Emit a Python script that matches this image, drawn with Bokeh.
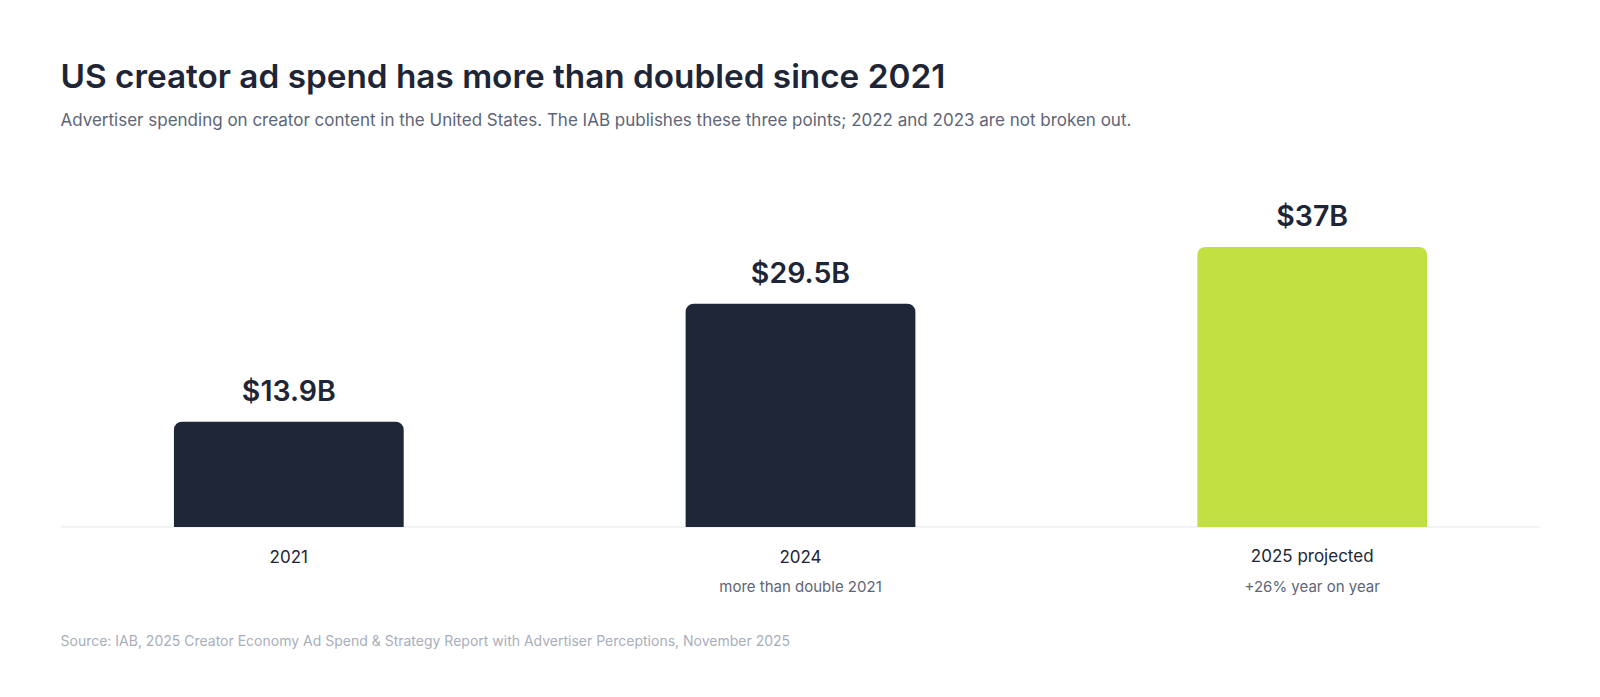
import numpy as np

from bokeh.core.properties import value
from bokeh.embed import file_html
from bokeh.models import ColumnDataSource, Label, Range1d
from bokeh.plotting import figure
from bokeh.resources import INLINE

# data
categories = ["2021", "2024", "2025 projected"]
spend = [13.9, 29.5, 37.0]
value_labels = ["$13.9B", "$29.5B", "$37B"]
notes = ["", "more than double 2021", "+26% year on year"]
bar_colors = ["#1e2637", "#1e2637", "#c1e042"]

TITLE = "US creator ad spend has more than doubled since 2021"
SUBTITLE = ("Advertiser spending on creator content in the United States. "
            "The IAB publishes these three points; 2022 and 2023 are not broken out.")
SOURCE = "Source: IAB, 2025 Creator Economy Ad Spend & Strategy Report with Advertiser Perceptions, November 2025"

FONT = "Inter"
FONT_SEMI = "Inter SemiBold"
DARK = "#1d2536"
GREY = "#5d6577"

# layout (pixels)
W, H = 1584, 681
X0_PX = 288.3      # centre of first bar, from left of canvas
STEP_PX = 511.7    # distance between bar centres
BASE_PX = 526.5    # baseline, from top of canvas
PX_PER_B = 7.57
PAD = 0.445        # baseline overhang in category units

xs = -X0_PX / STEP_PX
ye = BASE_PX / PX_PER_B

p = figure(width=W, height=H, output_backend="svg", toolbar_location=None,
           x_range=Range1d(xs, xs + W / STEP_PX),
           y_range=Range1d(ye - H / PX_PER_B, ye),
           x_axis_location=None, y_axis_location=None,
           min_border=0, outline_line_color=None)
p.grid.visible = False
p.background_fill_color = "white"
p.border_fill_color = "white"

idx = np.arange(len(categories))
src = ColumnDataSource(dict(x=idx, y=spend, lab=value_labels, cat=categories,
                            note=notes, color=bar_colors))

# baseline
p.segment(x0=[idx[0] - PAD], x1=[idx[-1] + PAD], y0=[0], y1=[0],
          line_color="#e6e8eb", line_width=1.2)

p.vbar(x="x", top="y", bottom=0, width=0.449, source=src,
       fill_color="color", line_color=None, border_radius=(8, 8, 0, 0))

p.text(x="x", y="y", text="lab", source=src, y_offset=-31,
       text_align="center", text_baseline="alphabetic",
       text_font=value(FONT_SEMI),
       text_font_size="28.5px", text_color=DARK)

p.text(x="x", y=0, text="cat", source=src, y_offset=29,
       text_align="center", text_baseline="alphabetic",
       text_font=value(FONT), text_font_size="17px", text_color=DARK)

p.text(x="x", y=0, text="note", source=src, y_offset=59,
       text_align="center", text_baseline="alphabetic",
       text_font=value(FONT), text_font_size="15px", text_color=GREY)

# headings and source, in screen units (y counted from bottom)
p.add_layout(Label(x=60, y=H - 75, x_units="screen", y_units="screen",
                   text=TITLE, text_font=FONT_SEMI,
                   text_font_size="33.3px", text_color=DARK,
                   text_baseline="alphabetic"))
p.add_layout(Label(x=60, y=H - 119.5, x_units="screen", y_units="screen",
                   text=SUBTITLE, text_font=FONT, text_font_size="17px",
                   text_color=GREY, text_baseline="alphabetic"))
p.add_layout(Label(x=60, y=H - 640, x_units="screen", y_units="screen",
                   text=SOURCE, text_font=FONT, text_font_size="14px",
                   text_color="#a9aebb", text_baseline="alphabetic"))

open("out.html", "w").write(file_html(p, INLINE))
